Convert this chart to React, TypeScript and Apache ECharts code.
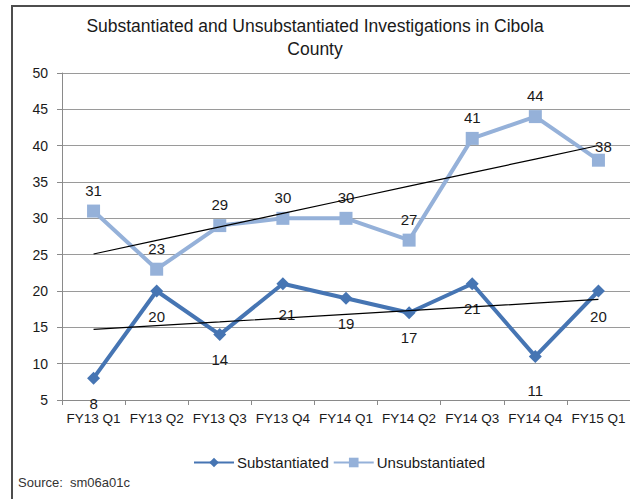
import React, { useEffect, useRef } from "react";
import * as echarts from "echarts";

const categories = ["FY13 Q1", "FY13 Q2", "FY13 Q3", "FY13 Q4", "FY14 Q1", "FY14 Q2", "FY14 Q3", "FY14 Q4", "FY15 Q1"];
const substantiated = [8, 20, 14, 21, 19, 17, 21, 11, 20];
const unsubstantiated = [31, 23, 29, 30, 30, 27, 41, 44, 38];
const titleText = "Substantiated and Unsubstantiated Investigations in Cibola\nCounty";
const sourceText = "Source:  sm06a01c";

const FONT = "'Liberation Sans', sans-serif";

function trend(values: number[]): number[] {
  const n = values.length;
  const mx = (n - 1) / 2;
  const my = values.reduce((a, b) => a + b, 0) / n;
  let sxy = 0;
  let sxx = 0;
  values.forEach((v, i) => {
    sxy += (i - mx) * (v - my);
    sxx += (i - mx) * (i - mx);
  });
  const slope = sxy / sxx;
  return values.map((_, i) => +(my + slope * (i - mx)).toFixed(3));
}

export default function App() {
  const ref = useRef<HTMLDivElement>(null);
  useEffect(() => {
    if (!ref.current) return;
    const chart = echarts.init(ref.current, undefined, { renderer: "svg" });
    const darkBlue = "#4675b3";
    const lightBlue = "#95b1d9";
    chart.setOption({
      animation: false,
      backgroundColor: "#ffffff",
      textStyle: { fontFamily: FONT },
      title: {
        text: titleText,
        left: "center",
        top: 9,
        textStyle: { fontFamily: FONT, fontSize: 17.5, fontWeight: "normal", color: "#1a1a1a", lineHeight: 23 },
      },
      legend: {
        data: ["Substantiated", "Unsubstantiated"],
        left: 188,
        top: 450,
        itemWidth: 40,
        itemHeight: 12,
        itemGap: 4,
        textStyle: { fontFamily: FONT, fontSize: 15, color: "#1a1a1a", padding: [0, 0, 0, -2] },
      },
      grid: { left: 62, right: -9, top: 73, bottom: 99, containLabel: false },
      xAxis: {
        type: "category",
        data: categories,
        boundaryGap: true,
        axisLine: { lineStyle: { color: "#8a8a8a", width: 1 } },
        axisTick: { show: true, length: 5, lineStyle: { color: "#8a8a8a" } },
        axisLabel: { color: "#1a1a1a", fontSize: 13.5, margin: 11, fontFamily: FONT, interval: 0 },
      },
      yAxis: {
        type: "value",
        min: 5,
        max: 50,
        interval: 5,
        axisLine: { show: true, lineStyle: { color: "#8a8a8a", width: 1 } },
        axisTick: { show: true, length: 5, lineStyle: { color: "#8a8a8a" } },
        axisLabel: { color: "#1a1a1a", fontSize: 14, margin: 14, fontFamily: FONT },
        splitLine: { lineStyle: { color: "#9a9a9a", width: 1 } },
      },
      graphic: [
        {
          type: "rect",
          shape: { x: 12, y: 6, width: 700, height: 600 },
          style: { fill: "none", stroke: "#4d4d4d", lineWidth: 2 },
          silent: true,
        },
        {
          type: "text",
          left: 18,
          top: 476,
          style: { text: sourceText, fontFamily: FONT, fontSize: 13, fill: "#333333" },
        },
      ],
      series: [
        {
          name: "Substantiated",
          type: "line",
          data: substantiated.map((v, i) => ({
            value: v,
            label: i === 7 ? { distance: 20 } : i === 3 ? { distance: 17, offset: [4, 0] } : undefined,
          })),
          symbol: "diamond",
          symbolSize: 13,
          lineStyle: { color: darkBlue, width: 4 },
          itemStyle: { color: darkBlue },
          label: { show: true, position: "bottom", distance: 11, fontSize: 15, color: "#1a1a1a", fontFamily: FONT },
          z: 3,
        },
        {
          name: "Unsubstantiated",
          type: "line",
          data: unsubstantiated.map((v, i) => ({
            value: v,
            label: i === 8 ? { distance: 0, offset: [5, 0] } : undefined,
          })),
          symbol: "rect",
          symbolSize: 13,
          lineStyle: { color: lightBlue, width: 4 },
          itemStyle: { color: lightBlue },
          label: { show: true, position: "top", distance: 7, fontSize: 15, color: "#1a1a1a", fontFamily: FONT },
          z: 2,
        },
        {
          name: "Substantiated trend",
          type: "line",
          data: trend(substantiated),
          symbol: "none",
          lineStyle: { color: "#000000", width: 1.2 },
          silent: true,
          z: 4,
        },
        {
          name: "Unsubstantiated trend",
          type: "line",
          data: trend(unsubstantiated),
          symbol: "none",
          lineStyle: { color: "#000000", width: 1.2 },
          silent: true,
          z: 4,
        },
      ],
    });
    return () => chart.dispose();
  }, []);
  return <div ref={ref} style={{ position: "fixed", left: 0, top: 0, width: 630, height: 499 }} />;
}
